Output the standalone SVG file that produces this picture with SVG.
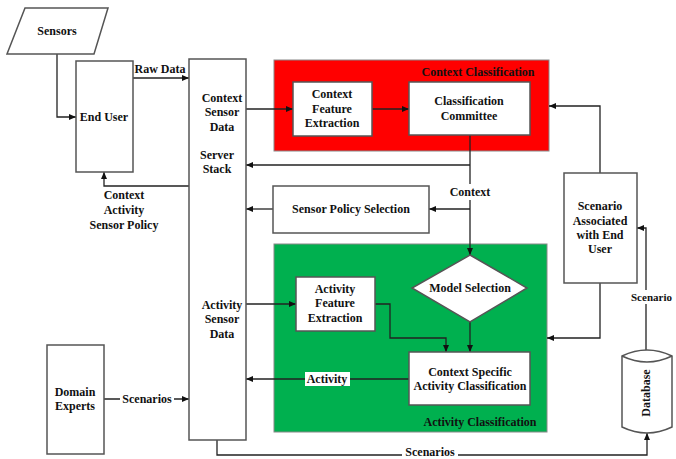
<svg xmlns="http://www.w3.org/2000/svg" width="676" height="459" viewBox="0 0 676 459">
<defs>
<marker id="ah" markerWidth="8" markerHeight="8" refX="7" refY="4" orient="auto" markerUnits="userSpaceOnUse">
<path d="M0,1 L7,4 L0,7 z" fill="#111"/>
</marker>
<style>
text{font-family:"Liberation Serif","Times New Roman",serif;font-weight:bold;font-size:12px;fill:#111;text-anchor:middle;dominant-baseline:central}
.box{fill:#fff;stroke:#555;stroke-width:1.5}
.ln{fill:none;stroke:#222;stroke-width:1.3;marker-end:url(#ah)}
</style>
</defs>
<rect width="676" height="459" fill="#fff"/>

<g id="context-classification">
<rect x="274" y="60" width="275" height="91" fill="#ff0000" stroke="#888" stroke-width="1"/>
<text x="478" y="72" fill="#300">Context Classification</text>
</g>
<g id="activity-classification">
<rect x="274" y="244" width="273" height="188" fill="#00b04f" stroke="#888" stroke-width="1"/>
<text x="480" y="422">Activity Classification</text>
</g>

<g id="connectors">
<path class="ln" d="M57,54 V117 H76"/>
<path class="ln" d="M133,78 H189"/>
<path class="ln" d="M189,186 H104 V172"/>
<path class="ln" d="M246,109 H293"/>
<path class="ln" d="M372,109 H409"/>
<path class="ln" d="M470,135 V255"/>
<path class="ln" d="M470,165 H246"/>
<path class="ln" d="M470,209 H429"/>
<path class="ln" d="M273,209 H246"/>
<path class="ln" d="M246,304 H296"/>
<path class="ln" d="M375,304 H390 V338 H446 V352"/>
<path class="ln" d="M470,322 V352"/>
<path class="ln" d="M409,379 H246"/>
<path class="ln" d="M600,173 V106 H549"/>
<path class="ln" d="M600,283 V338 H547"/>
<path class="ln" d="M646,350 V228 H637"/>
<path class="ln" d="M217,440 V455 H647 V433"/>
<path class="ln" d="M104,399 H189"/>
</g>

<g id="labels">
<text x="160" y="69">Raw Data</text>
<text x="124" y="195">Context</text>
<text x="124" y="210">Activity</text>
<text x="124" y="225">Sensor Policy</text>
<rect x="446" y="184" width="48" height="16" fill="#fff"/>
<text x="470" y="192">Context</text>
<rect x="305" y="372" width="45" height="14" fill="#fff"/>
<text x="327" y="379">Activity</text>
<rect x="120" y="393" width="54" height="12" fill="#fff"/>
<text x="147" y="399">Scenarios</text>
<rect x="402" y="447" width="56" height="12" fill="#fff"/>
<text x="430" y="452">Scenarios</text>
<rect x="630" y="290" width="46" height="14" fill="#fff"/>
<text x="631" y="297" style="text-anchor:start;font-size:11px">Scenario</text>
</g>

<g id="sensors">
<polygon points="25,8 108,8 94,54 7,54" fill="#fff" stroke="#555" stroke-width="1.5"/>
<text x="57" y="31">Sensors</text>
</g>
<g id="end-user">
<rect class="box" x="76" y="61" width="57" height="111"/>
<text x="104" y="117">End User</text>
</g>
<g id="server-stack">
<rect class="box" x="189" y="59" width="57" height="381"/>
<text x="222" y="98">Context</text>
<text x="222" y="112">Sensor</text>
<text x="222" y="127">Data</text>
<text x="217" y="155">Server</text>
<text x="217" y="169">Stack</text>
<text x="222" y="305">Activity</text>
<text x="222" y="319">Sensor</text>
<text x="222" y="334">Data</text>
</g>
<g id="context-feature-extraction">
<rect class="box" x="293" y="82" width="79" height="54"/>
<text x="332" y="94">Context</text>
<text x="332" y="109">Feature</text>
<text x="332" y="123">Extraction</text>
</g>
<g id="classification-committee">
<rect class="box" x="409" y="82" width="121" height="53"/>
<text x="469" y="101">Classification</text>
<text x="469" y="116">Committee</text>
</g>
<g id="sensor-policy-selection">
<rect class="box" x="273" y="186" width="156" height="47"/>
<text x="351" y="209">Sensor Policy Selection</text>
</g>
<g id="model-selection">
<polygon points="470,255 527,288 470,322 412,288" fill="#fff" stroke="#555" stroke-width="1.5"/>
<text x="470" y="288">Model Selection</text>
</g>
<g id="activity-feature-extraction">
<rect class="box" x="296" y="277" width="79" height="54"/>
<text x="335" y="289">Activity</text>
<text x="335" y="303">Feature</text>
<text x="335" y="318">Extraction</text>
</g>
<g id="context-specific-activity-classification">
<rect class="box" x="409" y="352" width="121" height="53"/>
<text x="470" y="372">Context Specific</text>
<text x="470" y="386">Activity Classification</text>
</g>
<g id="scenario-associated">
<rect class="box" x="564" y="173" width="73" height="110"/>
<text x="600" y="206">Scenario</text>
<text x="600" y="221">Associated</text>
<text x="600" y="235">with End</text>
<text x="600" y="249">User</text>
</g>
<g id="database">
<path d="M622,356 Q647,344 672,356 V427 Q647,439 622,427 Z" fill="#fff" stroke="#555" stroke-width="1.5"/>
<path d="M622,356 Q647,368 672,356" fill="none" stroke="#555" stroke-width="1.5"/>
<text x="646" y="393" transform="rotate(-90 646 393)">Database</text>
</g>
<g id="domain-experts">
<rect class="box" x="47" y="345" width="57" height="109"/>
<text x="75" y="392">Domain</text>
<text x="75" y="406">Experts</text>
</g>
</svg>
